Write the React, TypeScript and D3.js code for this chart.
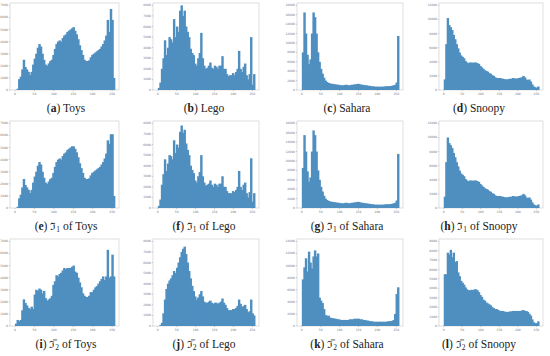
import React from "react";
import * as d3 from "d3";

// Histogram bins: 64 bins of width 4 over pixel values 0..255
const BIN_WIDTH = 4;
const X_TICKS = [0, 50, 100, 150, 200, 250];

const TOYS = [0,100,900,1100,1700,2500,1900,1700,1500,1250,1500,2100,2600,3000,3500,3800,3600,3000,2500,2100,2000,2200,2400,2500,2900,3400,3800,4000,4100,4000,4300,4500,4600,4800,4900,5000,5100,5200,4900,4600,4200,3700,3300,2900,2500,2400,2400,2450,2700,2900,3000,3100,3200,3300,3400,3600,3800,4100,4500,5800,4800,6700,5800,1000];
const LEGO = [200,700,2000,3000,4700,3300,4000,5000,4800,4500,6700,5000,6000,5500,7500,8000,7000,7500,6000,5500,5000,3900,3500,3300,2500,2300,3000,3500,5400,3000,2300,2000,2100,2300,2600,2100,2000,2300,2200,2000,2300,2300,3200,2000,2000,1500,1300,1400,1400,1600,1400,1700,2000,3700,2000,1700,2200,2500,1400,1000,1500,5000,500,1500];
const SAHARA = [8000,16500,12000,7500,5500,6500,12000,16500,15500,12000,8000,6000,4500,3500,2600,2000,1700,1500,1400,1300,1300,1200,1200,1100,1100,1000,1000,1000,1100,1100,1000,1000,1100,1100,1200,1200,1300,1300,1200,1100,1100,1000,1000,900,900,800,800,750,700,700,700,700,700,700,750,800,800,800,850,900,1000,1100,1600,11500];
const SNOOPY = [1500,6500,10200,9200,8900,8500,7800,7200,6500,5900,5300,4900,4700,4500,4100,3900,3800,3900,3900,3850,3900,3900,3800,3700,3400,3200,3000,2800,2700,2600,2400,2300,2100,2000,1800,1700,1700,1700,1650,1600,1550,1500,1500,1550,1600,1600,1700,1650,1600,1650,1700,1750,1800,2000,1800,1500,1400,1500,1200,800,500,400,300,500];

const J1_TOYS = [0,100,800,1100,1700,2400,1900,1700,1500,1250,1500,2100,2600,3000,3500,3800,3600,3000,2500,2100,2000,2200,2400,2500,2900,3400,3800,4000,4100,4000,4300,4500,4600,4800,4900,5000,5100,5100,4900,4600,4200,3700,3300,2900,2500,2400,2400,2450,2700,2900,3000,3100,3200,3300,3400,3600,3800,4100,4500,5600,5300,6100,6100,1000];
const J1_LEGO = [200,800,2200,3200,4600,3500,4200,5000,4900,4600,6400,5200,6000,5700,7200,7800,7100,7400,6100,5500,5000,4000,3600,3300,2600,2400,3000,3400,5000,3000,2400,2100,2200,2300,2600,2200,2000,2300,2200,2000,2300,2300,3000,2000,2000,1600,1400,1400,1400,1600,1500,1700,2000,3500,2000,1700,2200,2400,1400,1000,1500,4700,600,1400];
const J1_SAHARA = [8500,15500,12000,7800,5600,6500,12000,16500,15500,12000,8000,6000,4500,3500,2600,2000,1700,1500,1400,1300,1300,1200,1200,1100,1100,1000,1000,1000,1100,1100,1000,1000,1100,1100,1200,1200,1300,1300,1200,1100,1100,1000,1000,900,900,800,800,750,700,700,700,700,700,700,750,800,800,800,850,900,1000,1100,1600,11500];
const J1_SNOOPY = [1600,6500,10000,9200,8900,8500,7800,7200,6500,5900,5300,4900,4700,4500,4100,3900,3800,3900,3900,3850,3900,3900,3800,3700,3400,3200,3000,2800,2700,2600,2400,2300,2100,2000,1800,1700,1700,1700,1650,1600,1550,1500,1500,1550,1600,1600,1700,1650,1600,1650,1700,1750,1800,2000,1800,1500,1400,1500,1200,800,500,400,300,500];

const J2_TOYS = [200,500,400,500,1300,2200,1900,1700,1500,1400,1600,1400,2600,3000,2900,3100,3000,2700,2900,2300,2100,2200,2300,2500,3400,3700,4200,4100,4300,4400,4600,4800,4700,4800,4800,4800,4900,5000,4500,4400,4000,3600,3200,2700,2500,2400,2400,2500,2800,2800,3000,3200,3300,3500,3700,3900,4100,3800,4100,6300,4000,4100,5900,4100];
const J2_LEGO = [0,100,300,1200,2500,3500,4000,4300,4500,4800,5200,5000,5500,6000,6500,7000,7300,7500,6800,6000,5200,4500,3800,3300,2800,2500,2700,3000,3300,2800,2300,2200,2200,2300,2400,2200,2100,2200,2200,2100,2200,2300,2600,2200,2000,1700,1500,1500,1500,1600,1600,1700,1900,2500,2100,1800,1900,2000,1600,1300,1400,2500,1200,1000];
const J2_SAHARA = [7700,9700,11200,9000,12300,10500,9500,11500,12500,11500,12000,4700,4200,3800,2800,1800,1700,1700,1400,1300,1300,1200,1200,1100,1100,1000,1000,1000,1000,1000,1000,1100,1100,1100,1200,1200,1200,1200,1100,1100,1000,1000,900,900,800,800,750,700,700,700,700,700,700,700,700,700,750,800,800,850,1000,2000,5300,6400];
const J2_SNOOPY = [5500,5500,7800,7600,8100,7300,7800,6800,6900,5700,5300,4800,4600,4400,4100,3900,3800,3800,3850,3800,3900,3900,3800,3600,3300,3100,2800,2700,2500,2400,2300,2200,2000,1900,1800,1800,1700,1600,1600,1600,1550,1500,1500,1500,1550,1550,1600,1600,1600,1600,1600,1600,1650,1700,1600,1600,1500,1300,1100,700,400,300,300,500];

const YT_7000 = [0,1000,2000,3000,4000,5000,6000,7000];
const YT_8000 = [0,1000,2000,3000,4000,5000,6000,7000,8000];
const YT_9000 = [0,1000,2000,3000,4000,5000,6000,7000,8000,9000];
const YT_12000 = [0,2000,4000,6000,8000,10000,12000];
const YT_14000 = [0,2000,4000,6000,8000,10000,12000,14000];
const YT_18000 = [0,2000,4000,6000,8000,10000,12000,14000,16000,18000];

const LETTERS = ["a","b","c","d","e","f","g","h","i","j","k","l"];
const NAMES = ["Toys","Lego","Sahara","Snoopy"];

const COLS = [
  { x0: 10, x1: 119, cap: 66 },
  { x0: 153, x1: 259, cap: 204 },
  { x0: 297, x1: 403, cap: 347 },
  { x0: 439, x1: 543, cap: 479 },
];
const ROWS = [
  { y0: 3, y1: 90, cap: 108 },
  { y0: 121, y1: 208, cap: 226 },
  { y0: 239, y1: 326, cap: 344 },
];

const PANELS = [
  { data: TOYS, yt: YT_7000 }, { data: LEGO, yt: YT_8000 }, { data: SAHARA, yt: YT_18000 }, { data: SNOOPY, yt: YT_12000 },
  { data: J1_TOYS, yt: YT_7000 }, { data: J1_LEGO, yt: YT_8000 }, { data: J1_SAHARA, yt: YT_18000 }, { data: J1_SNOOPY, yt: YT_12000 },
  { data: J2_TOYS, yt: YT_7000 }, { data: J2_LEGO, yt: YT_8000 }, { data: J2_SAHARA, yt: YT_14000 }, { data: J2_SNOOPY, yt: YT_9000 },
];

const BAR = "#4f8fc0";

function Panel({ idx }: { idx: number }) {
  const r = Math.floor(idx / 4);
  const c = idx % 4;
  const col = COLS[c];
  const row = ROWS[r];
  const p = PANELS[idx];
  const x = d3.scaleLinear().domain([-12.75, 267.75]).range([col.x0, col.x1]);
  const top = p.yt[p.yt.length - 1];
  const y = d3.scaleLinear().domain([0, top * 1.028]).range([row.y1, row.y0]);
  const fmt = d3.format("d");
  return (
    <g>
      <rect x={col.x0} y={row.y0} width={col.x1 - col.x0} height={row.y1 - row.y0} fill="#fff" stroke="#c8c8c8" strokeWidth={0.6} />
      {p.data.map((v, i) => (
        <rect key={i} x={x(i * BIN_WIDTH)} y={y(v)} width={x((i + 1) * BIN_WIDTH) - x(i * BIN_WIDTH) + 0.9} height={y(0) - y(v)} fill={BAR} />
      ))}
      {p.yt.map((t) => (
        <g key={"y" + t}>
          <line x1={col.x0 - 1.2} x2={col.x0} y1={y(t)} y2={y(t)} stroke="#888" strokeWidth={0.4} />
          <text x={col.x0 - 2} y={y(t) + 1} fontSize={3} textAnchor="end" fill="#777" fontFamily="DejaVu Sans">{fmt(t)}</text>
        </g>
      ))}
      {X_TICKS.map((t) => (
        <g key={"x" + t}>
          <line x1={x(t)} x2={x(t)} y1={row.y1} y2={row.y1 + 1.2} stroke="#888" strokeWidth={0.4} />
          <text x={x(t)} y={row.y1 + 4.5} fontSize={3} textAnchor="middle" fill="#777" fontFamily="DejaVu Sans">{t}</text>
        </g>
      ))}
      <text x={col.cap} y={row.cap + 4} fontSize={11.5} textAnchor="middle" fill="#222" fontFamily="'Liberation Serif', serif">
        <tspan>(</tspan>
        <tspan fontWeight="bold">{LETTERS[idx]}</tspan>
        <tspan>) </tspan>
        {r === 0 ? (
          <tspan>{NAMES[c]}</tspan>
        ) : (
          <>
            <tspan fontFamily="'DejaVu Serif', serif" fontSize={10}>{r === 1 ? "\u2111\u0303" : "\u2111\u0305"}</tspan>
            <tspan fontSize={7.5} dy={2}>{r === 1 ? "1" : "2"}</tspan>
            <tspan dy={-2}>{"  of " + NAMES[c]}</tspan>
          </>
        )}
      </text>
    </g>
  );
}

export default function App() {
  return (
    <svg width={550} height={356} style={{ position: "absolute", left: 0, top: 0, background: "#fff" }}>
      <rect width={550} height={356} fill="#fff" />
      {PANELS.map((_, i) => (
        <Panel key={i} idx={i} />
      ))}
    </svg>
  );
}
